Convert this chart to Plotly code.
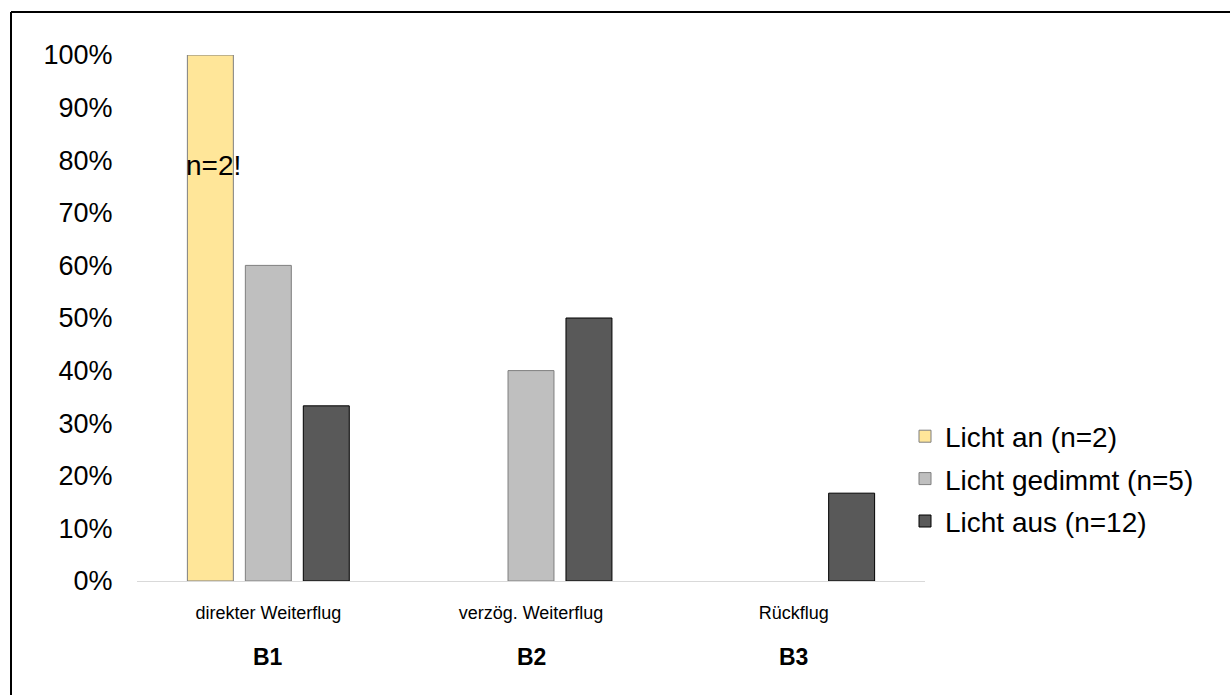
import plotly.graph_objects as go

categories = ["direkter Weiterflug", "verzög. Weiterflug", "Rückflug"]
group_labels = ["B1", "B2", "B3"]
series_names = ["Licht an (n=2)", "Licht gedimmt (n=5)", "Licht aus (n=12)"]
licht_an = [1.00, 0.0, 0.0]
licht_gedimmt = [0.60, 0.40, 0.0]
licht_aus = [0.333, 0.50, 0.167]
y_ticks = [0, 0.1, 0.2, 0.3, 0.4, 0.5, 0.6, 0.7, 0.8, 0.9, 1.0]
y_ticktext = ["0%", "10%", "20%", "30%", "40%", "50%", "60%", "70%", "80%", "90%", "100%"]
note_text = "n=2!"
note_value = 0.79

W, H = 1231, 695
fills = ["#FFE699", "#BFBFBF", "#595959"]
edges = ["#7F7F7F", "#7F7F7F", "#000000"]

fig = go.Figure()
for i, (name, vals, fc, ec) in enumerate(zip(series_names, [licht_an, licht_gedimmt, licht_aus], fills, edges)):
    widths = [1 if v > 0 else 0 for v in vals]
    fig.add_trace(go.Bar(x=categories, y=vals, name=name, legendgroup="g%d" % i,
                         marker=dict(color=fc, line=dict(color=ec, width=widths))))

fig.update_layout(
    width=W, height=H,
    margin=dict(l=0, r=0, t=0, b=0, autoexpand=False),
    paper_bgcolor="white", plot_bgcolor="white",
    barmode="group", bargap=0.338, bargroupgap=0.207,
    font=dict(family="Liberation Sans, Arial, sans-serif", color="#000000"),
    xaxis=dict(domain=[137 / W, 925 / W], showline=True, linecolor="#D9D9D9", linewidth=1,
               ticks="outside", ticklen=15, tickcolor="rgba(0,0,0,0)", automargin=False,
               tickfont=dict(size=18), showgrid=False),
    yaxis=dict(domain=[1 - 581 / H, 1 - 55 / H], range=[0, 1], tickvals=y_ticks, ticktext=y_ticktext,
               showgrid=False, zeroline=False, showline=False, automargin=False,
               ticks="outside", ticklen=18, tickcolor="rgba(0,0,0,0)",
               tickfont=dict(size=27)),
    legend=dict(x=905 / W, y=1 - 479 / H, xanchor="left", yanchor="middle", tracegroupgap=3,
                font=dict(size=28), bgcolor="rgba(0,0,0,0)"),
    showlegend=True,
)

for cat, lab in zip(categories, group_labels):
    fig.add_annotation(x=cat, y=1 - 657 / H, xref="x", yref="paper", text="<b>" + lab + "</b>",
                       showarrow=False, yanchor="middle", font=dict(size=23))

fig.add_annotation(x=categories[0], y=note_value, xref="x", yref="y", text=note_text, showarrow=False,
                   xanchor="left", xshift=-84, font=dict(size=28))

# frame (top and left edges visible)
fig.add_shape(type="line", xref="paper", yref="paper", x0=11 / W, x1=1230 / W, y0=1 - 12 / H, y1=1 - 12 / H,
              line=dict(color="black", width=2))
fig.add_shape(type="line", xref="paper", yref="paper", x0=11 / W, x1=11 / W, y0=1 - 12 / H, y1=0,
              line=dict(color="black", width=2))

fig.write_html("out.html", config={"displayModeBar": False},
               post_script="document.body.style.margin='0';document.body.style.overflow='hidden';")
